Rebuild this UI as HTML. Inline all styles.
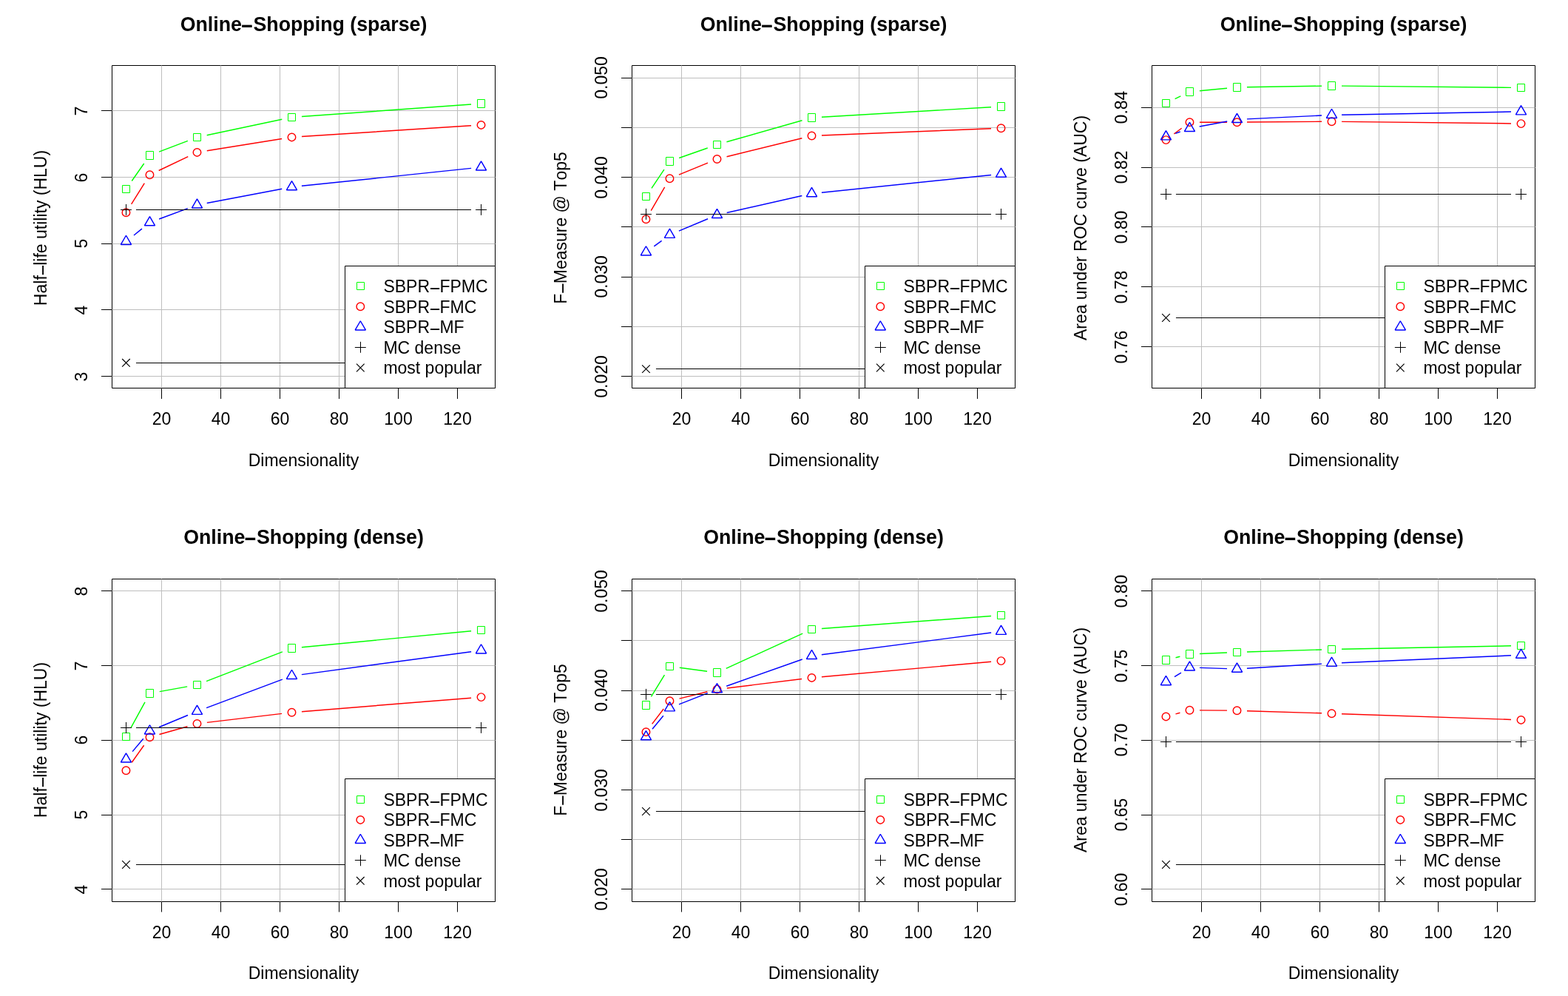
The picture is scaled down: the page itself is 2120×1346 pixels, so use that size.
<!DOCTYPE html>
<html lang="en">
<head>
<meta charset="utf-8">
<title>Online-Shopping</title>
<style>
html,body{margin:0;padding:0;background:#fff}
body{width:2120px;height:1346px;position:relative;overflow:hidden;font-family:"Liberation Sans",Arial,Helvetica,sans-serif;color:#000;font-kerning:none}
svg{position:absolute;left:0;top:0;display:block}
svg *{fill:none;stroke-width:1.0;stroke-linecap:butt;stroke-linejoin:round}
svg rect[fill]{fill:#fff}
svg .w{stroke-width:1.45}
svg .v{stroke-linejoin:bevel}
svg .k{stroke-width:1.2}
.t{position:absolute;width:0;height:0}
.t>span{position:absolute;left:0;top:0;white-space:nowrap;line-height:1;transform-origin:0 0;font-size:23.0px}
.a{transform:translate(-50%,-0.8465em)}
.h{font-weight:bold;font-size:26.75px !important;transform:translate(-50%,-0.8465em)}
.a.l{transform:translate(0,-0.8465em)}
.a.r{transform:rotate(-90deg) translate(-50%,-0.8465em)}
.d{display:inline-block;width:0.584em;text-align:center;transform:translate(0.015em,0.073em) scaleX(2.17)}
.h .d{transform:translate(-0.037em,0.0276em) scaleX(2)}
</style>
</head>
<body>
<svg width="2120" height="1346" viewBox="0 0 2120 1346">
<g transform="translate(0 0)">
<rect x="151.5" y="88.5" width="518" height="436" stroke="#000"/>
<path d="M218.5 524.5V539.0M298.5 524.5V539.0M378.5 524.5V539.0M458.5 524.5V539.0M538.5 524.5V539.0M618.5 524.5V539.0M151.5 508.5H137M151.5 418.5H137M151.5 329.5H137M151.5 239.5H137M151.5 149.5H137" stroke="#000"/>
<path d="M218.5 88.5V524.5M298.5 88.5V524.5M378.5 88.5V524.5M458.5 88.5V524.5M538.5 88.5V524.5M618.5 88.5V524.5M151.5 508.5H669.5M151.5 418.5H669.5M151.5 329.5H669.5M151.5 239.5H669.5M151.5 149.5H669.5" stroke="#bebebe"/>
<path class="w" d="M178.22 244.46L194.69 221.04M215.07 205.17L253.86 190.33M279.68 182.71L381.27 161.29M407.95 157.53L637.05 140.97" stroke="#0f0"/>
<rect x="165.5" y="250.5" width="10" height="10" stroke="#0f0"/>
<rect x="197.5" y="204.5" width="10" height="11" stroke="#0f0"/>
<rect x="261.5" y="180.5" width="10" height="10" stroke="#0f0"/>
<rect x="389.5" y="153.5" width="10" height="10" stroke="#0f0"/>
<rect x="645.5" y="134.5" width="10" height="11" stroke="#0f0"/>
<path class="w" d="M177.62 275.86L195.29 247.69M214.66 230.47L254.27 211.68M279.8 203.77L381.15 187.53M407.95 184.53L637.04 169.77" stroke="#f00"/>
<circle class="w" cx="170.45" cy="287.3" r="5.25" stroke="#f00"/>
<circle class="w" cx="202.46" cy="236.25" r="5.25" stroke="#f00"/>
<circle class="w" cx="266.47" cy="205.9" r="5.25" stroke="#f00"/>
<circle class="w" cx="394.48" cy="185.4" r="5.25" stroke="#f00"/>
<circle class="w" cx="650.51" cy="168.9" r="5.25" stroke="#f00"/>
<path class="w" d="M180.99 317.96L191.92 309.19M215.11 296.05L253.81 281.65M279.73 274.44L381.22 255.21M407.91 251.3L637.09 227.4" stroke="#00f"/>
<path class="w v" d="M170.45 318.24L177.52 330.48L163.38 330.48Z" stroke="#00f"/>
<path class="w v" d="M202.46 292.59L209.53 304.83L195.39 304.83Z" stroke="#00f"/>
<path class="w v" d="M266.47 268.79L273.54 281.03L259.4 281.03Z" stroke="#00f"/>
<path class="w v" d="M394.48 244.54L401.55 256.78L387.41 256.78Z" stroke="#00f"/>
<path class="w v" d="M650.51 217.84L657.58 230.08L643.44 230.08Z" stroke="#00f"/>
<path d="M183.95 283.5L637.01 283.5" stroke="#000"/>
<path d="M163 283.5H177.9M170.5 275.95V290.85" stroke="#000"/>
<path d="M643.06 283.5H657.96M650.5 275.95V290.85" stroke="#000"/>
<path d="M183.95 490.5L637.01 490.5" stroke="#000"/>
<path class="k" d="M165.15 485L175.75 495.6M165.15 495.6L175.75 485" stroke="#000"/>
<path class="k" d="M645.21 485L655.81 495.6M645.21 495.6L655.81 485" stroke="#000"/>
<rect x="466.5" y="359.5" width="203" height="165" fill="#fff" stroke="#000"/>
<rect x="482.5" y="381.5" width="10" height="10" stroke="#0f0"/>
<circle class="w" cx="487.3" cy="414.3" r="5.25" stroke="#f00"/>
<path class="w v" d="M487.3 433.74L494.37 445.98L480.23 445.98Z" stroke="#00f"/>
<path d="M479.85 469.5H494.75M487.5 461.85V476.75" stroke="#000"/>
<path class="k" d="M482 491.7L492.6 502.3M482 502.3L492.6 491.7" stroke="#000"/>
</g>
<g transform="translate(703 0)">
<rect x="151.5" y="88.5" width="518" height="436" stroke="#000"/>
<path d="M218.5 524.5V539.0M298.5 524.5V539.0M378.5 524.5V539.0M458.5 524.5V539.0M538.5 524.5V539.0M618.5 524.5V539.0M151.5 508.5H137M151.5 441.5H137M151.5 374.5H137M151.5 306.5H137M151.5 239.5H137M151.5 172.5H137M151.5 105.5H137" stroke="#000"/>
<path d="M218.5 88.5V524.5M298.5 88.5V524.5M378.5 88.5V524.5M458.5 88.5V524.5M538.5 88.5V524.5M618.5 88.5V524.5M151.5 508.5H669.5M151.5 441.5H669.5M151.5 374.5H669.5M151.5 306.5H669.5M151.5 239.5H669.5M151.5 172.5H669.5M151.5 105.5H669.5" stroke="#bebebe"/>
<path class="w" d="M178 254.3L194.91 229.2M215.19 213.52L253.73 199.98M279.45 191.8L381.5 162.7M407.96 158.21L637.04 144.79" stroke="#0f0"/>
<rect x="165.5" y="260.5" width="10" height="10" stroke="#0f0"/>
<rect x="197.5" y="212.5" width="10" height="11" stroke="#0f0"/>
<rect x="261.5" y="190.5" width="10" height="10" stroke="#0f0"/>
<rect x="389.5" y="153.5" width="10" height="11" stroke="#0f0"/>
<rect x="645.5" y="138.5" width="10" height="11" stroke="#0f0"/>
<path class="w" d="M177.24 284.58L195.67 252.92M214.95 236.13L253.98 220.12M279.57 211.77L381.37 186.73M407.97 182.96L637.02 173.79" stroke="#f00"/>
<circle class="w" cx="170.45" cy="296.25" r="5.25" stroke="#f00"/>
<circle class="w" cx="202.46" cy="241.25" r="5.25" stroke="#f00"/>
<circle class="w" cx="266.47" cy="215" r="5.25" stroke="#f00"/>
<circle class="w" cx="394.48" cy="183.5" r="5.25" stroke="#f00"/>
<circle class="w" cx="650.51" cy="173.25" r="5.25" stroke="#f00"/>
<path class="w" d="M181.32 332.89L191.59 325.31M214.91 312.09L254.01 295.71M279.63 287.53L381.31 264.57M407.91 260.22L637.09 236.58" stroke="#00f"/>
<path class="w v" d="M170.45 332.74L177.52 344.98L163.38 344.98Z" stroke="#00f"/>
<path class="w v" d="M202.46 309.14L209.53 321.38L195.39 321.38Z" stroke="#00f"/>
<path class="w v" d="M266.47 282.34L273.54 294.58L259.4 294.58Z" stroke="#00f"/>
<path class="w v" d="M394.48 253.44L401.55 265.68L387.41 265.68Z" stroke="#00f"/>
<path class="w v" d="M650.51 227.04L657.58 239.28L643.44 239.28Z" stroke="#00f"/>
<path d="M183.95 289.5L637.01 289.5" stroke="#000"/>
<path d="M163 289.5H177.9M170.5 281.95V296.85" stroke="#000"/>
<path d="M643.06 289.5H657.96M650.5 281.95V296.85" stroke="#000"/>
<path d="M183.95 498.5L637.01 498.5" stroke="#000"/>
<path class="k" d="M165.15 493.3L175.75 503.9M165.15 503.9L175.75 493.3" stroke="#000"/>
<path class="k" d="M645.21 493.3L655.81 503.9M645.21 503.9L655.81 493.3" stroke="#000"/>
<rect x="466.5" y="359.5" width="203" height="165" fill="#fff" stroke="#000"/>
<rect x="482.5" y="381.5" width="10" height="10" stroke="#0f0"/>
<circle class="w" cx="487.3" cy="414.3" r="5.25" stroke="#f00"/>
<path class="w v" d="M487.3 433.74L494.37 445.98L480.23 445.98Z" stroke="#00f"/>
<path d="M479.85 469.5H494.75M487.5 461.85V476.75" stroke="#000"/>
<path class="k" d="M482 491.7L492.6 502.3M482 502.3L492.6 491.7" stroke="#000"/>
</g>
<g transform="translate(1406 0)">
<rect x="151.5" y="88.5" width="518" height="436" stroke="#000"/>
<path d="M218.5 524.5V539.0M298.5 524.5V539.0M378.5 524.5V539.0M458.5 524.5V539.0M538.5 524.5V539.0M618.5 524.5V539.0M151.5 468.5H137M151.5 387.5H137M151.5 306.5H137M151.5 226.5H137M151.5 145.5H137" stroke="#000"/>
<path d="M218.5 88.5V524.5M298.5 88.5V524.5M378.5 88.5V524.5M458.5 88.5V524.5M538.5 88.5V524.5M618.5 88.5V524.5M151.5 468.5H669.5M151.5 387.5H669.5M151.5 306.5H669.5M151.5 226.5H669.5M151.5 145.5H669.5" stroke="#bebebe"/>
<path class="w" d="M182.6 133.62L190.31 129.88M215.9 122.74L253.02 119.26M279.96 117.79L380.98 116.21M407.98 116.13L637.01 118.37" stroke="#0f0"/>
<rect x="165.5" y="134.5" width="10" height="10" stroke="#0f0"/>
<rect x="197.5" y="118.5" width="10" height="11" stroke="#0f0"/>
<rect x="261.5" y="112.5" width="10" height="11" stroke="#0f0"/>
<rect x="389.5" y="110.5" width="10" height="11" stroke="#0f0"/>
<rect x="645.5" y="113.5" width="10" height="10" stroke="#0f0"/>
<path class="w" d="M181.26 181.01L191.65 173.24M215.96 165.16L252.97 165.19M279.97 165.09L380.98 164.31M407.98 164.35L637.01 166.95" stroke="#f00"/>
<circle class="w" cx="170.45" cy="189.1" r="5.25" stroke="#f00"/>
<circle class="w" cx="202.46" cy="165.15" r="5.25" stroke="#f00"/>
<circle class="w" cx="266.47" cy="165.2" r="5.25" stroke="#f00"/>
<circle class="w" cx="394.48" cy="164.2" r="5.25" stroke="#f00"/>
<circle class="w" cx="650.51" cy="167.1" r="5.25" stroke="#f00"/>
<path class="w" d="M183.18 180.31L189.73 177.99M215.73 171.01L253.2 163.99M279.95 160.86L381 156.04M407.98 155.16L637.02 151.04" stroke="#00f"/>
<path class="w v" d="M170.45 176.64L177.52 188.88L163.38 188.88Z" stroke="#00f"/>
<path class="w v" d="M202.46 165.34L209.53 177.58L195.39 177.58Z" stroke="#00f"/>
<path class="w v" d="M266.47 153.34L273.54 165.58L259.4 165.58Z" stroke="#00f"/>
<path class="w v" d="M394.48 147.24L401.55 159.48L387.41 159.48Z" stroke="#00f"/>
<path class="w v" d="M650.51 142.64L657.58 154.88L643.44 154.88Z" stroke="#00f"/>
<path d="M183.95 262.5L637.01 262.5" stroke="#000"/>
<path d="M163 262.5H177.9M170.5 255.05V269.95" stroke="#000"/>
<path d="M643.06 262.5H657.96M650.5 255.05V269.95" stroke="#000"/>
<path d="M183.95 429.5L637.01 429.5" stroke="#000"/>
<path class="k" d="M165.15 424.2L175.75 434.8M165.15 434.8L175.75 424.2" stroke="#000"/>
<path class="k" d="M645.21 424.2L655.81 434.8M645.21 434.8L655.81 424.2" stroke="#000"/>
<rect x="466.5" y="359.5" width="203" height="165" fill="#fff" stroke="#000"/>
<rect x="482.5" y="381.5" width="10" height="10" stroke="#0f0"/>
<circle class="w" cx="487.3" cy="414.3" r="5.25" stroke="#f00"/>
<path class="w v" d="M487.3 433.74L494.37 445.98L480.23 445.98Z" stroke="#00f"/>
<path d="M479.85 469.5H494.75M487.5 461.85V476.75" stroke="#000"/>
<path class="k" d="M482 491.7L492.6 502.3M482 502.3L492.6 491.7" stroke="#000"/>
</g>
<g transform="translate(0 694)">
<rect x="151.5" y="88.5" width="518" height="436" stroke="#000"/>
<path d="M218.5 524.5V538.5M298.5 524.5V538.5M378.5 524.5V538.5M458.5 524.5V538.5M538.5 524.5V538.5M618.5 524.5V538.5M151.5 507.5H137M151.5 407.5H137M151.5 306.5H137M151.5 205.5H137M151.5 104.5H137" stroke="#000"/>
<path d="M218.5 88.5V524.5M298.5 88.5V524.5M378.5 88.5V524.5M458.5 88.5V524.5M538.5 88.5V524.5M618.5 88.5V524.5M151.5 507.5H669.5M151.5 407.5H669.5M151.5 306.5H669.5M151.5 205.5H669.5M151.5 104.5H669.5" stroke="#bebebe"/>
<path class="w" d="M176.93 289.66L195.98 254.84M215.75 240.61L253.18 233.89M279.06 226.63L381.89 186.87M407.92 180.71L637.08 158.79" stroke="#0f0"/>
<rect x="165.5" y="296.5" width="10" height="10" stroke="#0f0"/>
<rect x="197.5" y="237.5" width="10" height="11" stroke="#0f0"/>
<rect x="261.5" y="226.5" width="10" height="10" stroke="#0f0"/>
<rect x="389.5" y="176.5" width="10" height="11" stroke="#0f0"/>
<rect x="645.5" y="152.5" width="10" height="10" stroke="#0f0"/>
<path class="w" d="M178.28 336.25L194.63 313.25M215.44 298.55L253.48 287.7M279.87 282.4L381.08 270.35M407.94 267.66L637.06 249.19" stroke="#f00"/>
<circle class="w" cx="170.45" cy="347.25" r="5.25" stroke="#f00"/>
<circle class="w" cx="202.46" cy="302.25" r="5.25" stroke="#f00"/>
<circle class="w" cx="266.47" cy="284" r="5.25" stroke="#f00"/>
<circle class="w" cx="394.48" cy="268.75" r="5.25" stroke="#f00"/>
<circle class="w" cx="650.51" cy="248.1" r="5.25" stroke="#f00"/>
<path class="w" d="M179.14 321.62L193.77 304.23M214.92 288.72L254 272.48M279.11 262.57L381.84 224.13M407.86 217.6L637.13 186.7" stroke="#00f"/>
<path class="w v" d="M170.45 323.79L177.52 336.03L163.38 336.03Z" stroke="#00f"/>
<path class="w v" d="M202.46 285.74L209.53 297.98L195.39 297.98Z" stroke="#00f"/>
<path class="w v" d="M266.47 259.14L273.54 271.38L259.4 271.38Z" stroke="#00f"/>
<path class="w v" d="M394.48 211.24L401.55 223.48L387.41 223.48Z" stroke="#00f"/>
<path class="w v" d="M650.51 176.74L657.58 188.98L643.44 188.98Z" stroke="#00f"/>
<path d="M183.95 289.5L637.01 289.5" stroke="#000"/>
<path d="M163 289.5H177.9M170.5 281.95V296.85" stroke="#000"/>
<path d="M643.06 289.5H657.96M650.5 281.95V296.85" stroke="#000"/>
<path d="M183.95 474.5L637.01 474.5" stroke="#000"/>
<path class="k" d="M165.15 469.2L175.75 479.8M165.15 479.8L175.75 469.2" stroke="#000"/>
<path class="k" d="M645.21 469.2L655.81 479.8M645.21 479.8L655.81 469.2" stroke="#000"/>
<rect x="466.5" y="358.5" width="203" height="166" fill="#fff" stroke="#000"/>
<rect x="482.5" y="381.5" width="10" height="10" stroke="#0f0"/>
<circle class="w" cx="487.3" cy="413.9" r="5.25" stroke="#f00"/>
<path class="w v" d="M487.3 433.24L494.37 445.48L480.23 445.48Z" stroke="#00f"/>
<path d="M479.85 468.5H494.75M487.5 461.35V476.25" stroke="#000"/>
<path class="k" d="M482 491L492.6 501.6M482 501.6L492.6 491" stroke="#000"/>
</g>
<g transform="translate(703 694)">
<rect x="151.5" y="88.5" width="518" height="436" stroke="#000"/>
<path d="M218.5 524.5V538.5M298.5 524.5V538.5M378.5 524.5V538.5M458.5 524.5V538.5M538.5 524.5V538.5M618.5 524.5V538.5M151.5 507.5H137M151.5 440.5H137M151.5 373.5H137M151.5 306.5H137M151.5 239.5H137M151.5 171.5H137M151.5 104.5H137" stroke="#000"/>
<path d="M218.5 88.5V524.5M298.5 88.5V524.5M378.5 88.5V524.5M458.5 88.5V524.5M538.5 88.5V524.5M618.5 88.5V524.5M151.5 507.5H669.5M151.5 440.5H669.5M151.5 373.5H669.5M151.5 306.5H669.5M151.5 239.5H669.5M151.5 171.5H669.5M151.5 104.5H669.5" stroke="#bebebe"/>
<path class="w" d="M177.48 247.47L195.43 218.03M215.84 208.28L253.08 213.22M278.74 209.39L382.2 162.11M407.94 155.5L637.05 138.5" stroke="#0f0"/>
<rect x="165.5" y="253.5" width="10" height="11" stroke="#0f0"/>
<rect x="197.5" y="201.5" width="10" height="10" stroke="#0f0"/>
<rect x="261.5" y="209.5" width="10" height="11" stroke="#0f0"/>
<rect x="389.5" y="151.5" width="10" height="10" stroke="#0f0"/>
<rect x="645.5" y="132.5" width="10" height="10" stroke="#0f0"/>
<path class="w" d="M178.65 284.43L194.26 264.02M215.57 250.08L253.35 240.82M279.87 235.96L381.08 223.54M407.93 220.7L637.07 200.3" stroke="#f00"/>
<circle class="w" cx="170.45" cy="295.15" r="5.25" stroke="#f00"/>
<circle class="w" cx="202.46" cy="253.3" r="5.25" stroke="#f00"/>
<circle class="w" cx="266.47" cy="237.6" r="5.25" stroke="#f00"/>
<circle class="w" cx="394.48" cy="221.9" r="5.25" stroke="#f00"/>
<circle class="w" cx="650.51" cy="199.1" r="5.25" stroke="#f00"/>
<path class="w" d="M179.03 291.27L193.88 273.23M215.03 257.87L253.9 242.63M279.2 233.21L381.75 196.99M407.87 190.76L637.13 161.04" stroke="#00f"/>
<path class="w v" d="M170.45 293.54L177.52 305.78L163.38 305.78Z" stroke="#00f"/>
<path class="w v" d="M202.46 254.64L209.53 266.88L195.39 266.88Z" stroke="#00f"/>
<path class="w v" d="M266.47 229.54L273.54 241.78L259.4 241.78Z" stroke="#00f"/>
<path class="w v" d="M394.48 184.34L401.55 196.58L387.41 196.58Z" stroke="#00f"/>
<path class="w v" d="M650.51 151.14L657.58 163.38L643.44 163.38Z" stroke="#00f"/>
<path d="M183.95 244.5L637.01 244.5" stroke="#000"/>
<path d="M163 244.5H177.9M170.5 236.95V251.85" stroke="#000"/>
<path d="M643.06 244.5H657.96M650.5 236.95V251.85" stroke="#000"/>
<path d="M183.95 402.5L637.01 402.5" stroke="#000"/>
<path class="k" d="M165.15 397.2L175.75 407.8M165.15 407.8L175.75 397.2" stroke="#000"/>
<path class="k" d="M645.21 397.2L655.81 407.8M645.21 407.8L655.81 397.2" stroke="#000"/>
<rect x="466.5" y="358.5" width="203" height="166" fill="#fff" stroke="#000"/>
<rect x="482.5" y="381.5" width="10" height="10" stroke="#0f0"/>
<circle class="w" cx="487.3" cy="413.9" r="5.25" stroke="#f00"/>
<path class="w v" d="M487.3 433.24L494.37 445.48L480.23 445.48Z" stroke="#00f"/>
<path d="M479.85 468.5H494.75M487.5 461.35V476.25" stroke="#000"/>
<path class="k" d="M482 491L492.6 501.6M482 501.6L492.6 491" stroke="#000"/>
</g>
<g transform="translate(1406 694)">
<rect x="151.5" y="88.5" width="518" height="436" stroke="#000"/>
<path d="M218.5 524.5V538.5M298.5 524.5V538.5M378.5 524.5V538.5M458.5 524.5V538.5M538.5 524.5V538.5M618.5 524.5V538.5M151.5 507.5H137M151.5 407.5H137M151.5 306.5H137M151.5 205.5H137M151.5 104.5H137" stroke="#000"/>
<path d="M218.5 88.5V524.5M298.5 88.5V524.5M378.5 88.5V524.5M458.5 88.5V524.5M538.5 88.5V524.5M618.5 88.5V524.5M151.5 507.5H669.5M151.5 407.5H669.5M151.5 306.5H669.5M151.5 205.5H669.5M151.5 104.5H669.5" stroke="#bebebe"/>
<path class="w" d="M183.55 194.73L189.36 193.27M215.95 189.47L252.98 188.03M279.96 187.08L380.99 183.92M407.98 183.24L637.02 178.76" stroke="#0f0"/>
<rect x="165.5" y="192.5" width="10" height="11" stroke="#0f0"/>
<rect x="197.5" y="184.5" width="10" height="11" stroke="#0f0"/>
<rect x="261.5" y="182.5" width="10" height="10" stroke="#0f0"/>
<rect x="389.5" y="178.5" width="10" height="10" stroke="#0f0"/>
<rect x="645.5" y="173.5" width="10" height="10" stroke="#0f0"/>
<path class="w" d="M183.49 270.88L189.43 269.27M215.96 265.86L252.97 266.14M279.96 266.67L380.99 269.83M407.97 270.71L637.02 278.44" stroke="#f00"/>
<circle class="w" cx="170.45" cy="274.4" r="5.25" stroke="#f00"/>
<circle class="w" cx="202.46" cy="265.75" r="5.25" stroke="#f00"/>
<circle class="w" cx="266.47" cy="266.25" r="5.25" stroke="#f00"/>
<circle class="w" cx="394.48" cy="270.25" r="5.25" stroke="#f00"/>
<circle class="w" cx="650.51" cy="278.9" r="5.25" stroke="#f00"/>
<path class="w" d="M181.96 220.54L190.95 215.01M215.95 208.4L252.97 209.65M279.94 209.28L381.01 203.12M407.97 201.72L637.03 191.83" stroke="#00f"/>
<path class="w v" d="M170.45 219.44L177.52 231.68L163.38 231.68Z" stroke="#00f"/>
<path class="w v" d="M202.46 199.79L209.53 212.03L195.39 212.03Z" stroke="#00f"/>
<path class="w v" d="M266.47 201.94L273.54 214.18L259.4 214.18Z" stroke="#00f"/>
<path class="w v" d="M394.48 194.14L401.55 206.38L387.41 206.38Z" stroke="#00f"/>
<path class="w v" d="M650.51 183.09L657.58 195.33L643.44 195.33Z" stroke="#00f"/>
<path d="M183.95 308.5L637.01 308.5" stroke="#000"/>
<path d="M163 308.5H177.9M170.5 301.05V315.95" stroke="#000"/>
<path d="M643.06 308.5H657.96M650.5 301.05V315.95" stroke="#000"/>
<path d="M183.95 474.5L637.01 474.5" stroke="#000"/>
<path class="k" d="M165.15 469.2L175.75 479.8M165.15 479.8L175.75 469.2" stroke="#000"/>
<path class="k" d="M645.21 469.2L655.81 479.8M645.21 479.8L655.81 469.2" stroke="#000"/>
<rect x="466.5" y="358.5" width="203" height="166" fill="#fff" stroke="#000"/>
<rect x="482.5" y="381.5" width="10" height="10" stroke="#0f0"/>
<circle class="w" cx="487.3" cy="413.9" r="5.25" stroke="#f00"/>
<path class="w v" d="M487.3 433.24L494.37 445.48L480.23 445.48Z" stroke="#00f"/>
<path d="M479.85 468.5H494.75M487.5 461.35V476.25" stroke="#000"/>
<path class="k" d="M482 491L492.6 501.6M482 501.6L492.6 491" stroke="#000"/>
</g>
</svg>
<div class="t" style="left:518.4px;top:395px"><span class="a l">SBPR<span class="d">-</span>FPMC</span></div>
<div class="t" style="left:518.4px;top:423px"><span class="a l">SBPR<span class="d">-</span>FMC</span></div>
<div class="t" style="left:518.4px;top:450px"><span class="a l">SBPR<span class="d">-</span>MF</span></div>
<div class="t" style="left:518.4px;top:478px"><span class="a l">MC dense</span></div>
<div class="t" style="left:518.4px;top:505px"><span class="a l">most popular</span></div>
<div class="t" style="left:410.5px;top:43px"><span class="h">Online<span class="d">-</span>Shopping (sparse)</span></div>
<div class="t" style="left:410.5px;top:630px"><span class="a">Dimensionality</span></div>
<div class="t" style="left:63.3px;top:307.5px"><span class="a r">Half<span class="d">-</span>life utility (HLU)</span></div>
<div class="t" style="left:218.46px;top:574px"><span class="a">20</span></div>
<div class="t" style="left:298.47px;top:574px"><span class="a">40</span></div>
<div class="t" style="left:378.48px;top:574px"><span class="a">60</span></div>
<div class="t" style="left:458.49px;top:574px"><span class="a">80</span></div>
<div class="t" style="left:538.5px;top:574px"><span class="a">100</span></div>
<div class="t" style="left:618.51px;top:574px"><span class="a">120</span></div>
<div class="t" style="left:118.3px;top:508.55px"><span class="a r">3</span></div>
<div class="t" style="left:118.3px;top:418.9px"><span class="a r">4</span></div>
<div class="t" style="left:118.3px;top:329.25px"><span class="a r">5</span></div>
<div class="t" style="left:118.3px;top:239.6px"><span class="a r">6</span></div>
<div class="t" style="left:118.3px;top:149.95px"><span class="a r">7</span></div>
<div class="t" style="left:1221.4px;top:395px"><span class="a l">SBPR<span class="d">-</span>FPMC</span></div>
<div class="t" style="left:1221.4px;top:423px"><span class="a l">SBPR<span class="d">-</span>FMC</span></div>
<div class="t" style="left:1221.4px;top:450px"><span class="a l">SBPR<span class="d">-</span>MF</span></div>
<div class="t" style="left:1221.4px;top:478px"><span class="a l">MC dense</span></div>
<div class="t" style="left:1221.4px;top:505px"><span class="a l">most popular</span></div>
<div class="t" style="left:1113.5px;top:43px"><span class="h">Online<span class="d">-</span>Shopping (sparse)</span></div>
<div class="t" style="left:1113.5px;top:630px"><span class="a">Dimensionality</span></div>
<div class="t" style="left:766.3px;top:307.5px"><span class="a r">F<span class="d">-</span>Measure @ Top5</span></div>
<div class="t" style="left:921.46px;top:574px"><span class="a">20</span></div>
<div class="t" style="left:1001.47px;top:574px"><span class="a">40</span></div>
<div class="t" style="left:1081.48px;top:574px"><span class="a">60</span></div>
<div class="t" style="left:1161.49px;top:574px"><span class="a">80</span></div>
<div class="t" style="left:1241.5px;top:574px"><span class="a">100</span></div>
<div class="t" style="left:1321.51px;top:574px"><span class="a">120</span></div>
<div class="t" style="left:821.3px;top:508.5px"><span class="a r">0.020</span></div>
<div class="t" style="left:821.3px;top:374.1px"><span class="a r">0.030</span></div>
<div class="t" style="left:821.3px;top:239.7px"><span class="a r">0.040</span></div>
<div class="t" style="left:821.3px;top:105.3px"><span class="a r">0.050</span></div>
<div class="t" style="left:1924.4px;top:395px"><span class="a l">SBPR<span class="d">-</span>FPMC</span></div>
<div class="t" style="left:1924.4px;top:423px"><span class="a l">SBPR<span class="d">-</span>FMC</span></div>
<div class="t" style="left:1924.4px;top:450px"><span class="a l">SBPR<span class="d">-</span>MF</span></div>
<div class="t" style="left:1924.4px;top:478px"><span class="a l">MC dense</span></div>
<div class="t" style="left:1924.4px;top:505px"><span class="a l">most popular</span></div>
<div class="t" style="left:1816.5px;top:43px"><span class="h">Online<span class="d">-</span>Shopping (sparse)</span></div>
<div class="t" style="left:1816.5px;top:630px"><span class="a">Dimensionality</span></div>
<div class="t" style="left:1469.3px;top:307.5px"><span class="a r">Area under ROC curve (AUC)</span></div>
<div class="t" style="left:1624.46px;top:574px"><span class="a">20</span></div>
<div class="t" style="left:1704.47px;top:574px"><span class="a">40</span></div>
<div class="t" style="left:1784.48px;top:574px"><span class="a">60</span></div>
<div class="t" style="left:1864.49px;top:574px"><span class="a">80</span></div>
<div class="t" style="left:1944.5px;top:574px"><span class="a">100</span></div>
<div class="t" style="left:2024.51px;top:574px"><span class="a">120</span></div>
<div class="t" style="left:1524.3px;top:468.5px"><span class="a r">0.76</span></div>
<div class="t" style="left:1524.3px;top:387.7px"><span class="a r">0.78</span></div>
<div class="t" style="left:1524.3px;top:306.9px"><span class="a r">0.80</span></div>
<div class="t" style="left:1524.3px;top:226.1px"><span class="a r">0.82</span></div>
<div class="t" style="left:1524.3px;top:145.3px"><span class="a r">0.84</span></div>
<div class="t" style="left:518.4px;top:1089px"><span class="a l">SBPR<span class="d">-</span>FPMC</span></div>
<div class="t" style="left:518.4px;top:1116px"><span class="a l">SBPR<span class="d">-</span>FMC</span></div>
<div class="t" style="left:518.4px;top:1144px"><span class="a l">SBPR<span class="d">-</span>MF</span></div>
<div class="t" style="left:518.4px;top:1171px"><span class="a l">MC dense</span></div>
<div class="t" style="left:518.4px;top:1199px"><span class="a l">most popular</span></div>
<div class="t" style="left:410.5px;top:736px"><span class="h">Online<span class="d">-</span>Shopping (dense)</span></div>
<div class="t" style="left:410.5px;top:1323px"><span class="a">Dimensionality</span></div>
<div class="t" style="left:63.3px;top:1000.4px"><span class="a r">Half<span class="d">-</span>life utility (HLU)</span></div>
<div class="t" style="left:218.46px;top:1268px"><span class="a">20</span></div>
<div class="t" style="left:298.47px;top:1268px"><span class="a">40</span></div>
<div class="t" style="left:378.48px;top:1268px"><span class="a">60</span></div>
<div class="t" style="left:458.49px;top:1268px"><span class="a">80</span></div>
<div class="t" style="left:538.5px;top:1268px"><span class="a">100</span></div>
<div class="t" style="left:618.51px;top:1268px"><span class="a">120</span></div>
<div class="t" style="left:118.3px;top:1201.9px"><span class="a r">4</span></div>
<div class="t" style="left:118.3px;top:1101.1px"><span class="a r">5</span></div>
<div class="t" style="left:118.3px;top:1000.3px"><span class="a r">6</span></div>
<div class="t" style="left:118.3px;top:899.5px"><span class="a r">7</span></div>
<div class="t" style="left:118.3px;top:798.7px"><span class="a r">8</span></div>
<div class="t" style="left:1221.4px;top:1089px"><span class="a l">SBPR<span class="d">-</span>FPMC</span></div>
<div class="t" style="left:1221.4px;top:1116px"><span class="a l">SBPR<span class="d">-</span>FMC</span></div>
<div class="t" style="left:1221.4px;top:1144px"><span class="a l">SBPR<span class="d">-</span>MF</span></div>
<div class="t" style="left:1221.4px;top:1171px"><span class="a l">MC dense</span></div>
<div class="t" style="left:1221.4px;top:1199px"><span class="a l">most popular</span></div>
<div class="t" style="left:1113.5px;top:736px"><span class="h">Online<span class="d">-</span>Shopping (dense)</span></div>
<div class="t" style="left:1113.5px;top:1323px"><span class="a">Dimensionality</span></div>
<div class="t" style="left:766.3px;top:1000.4px"><span class="a r">F<span class="d">-</span>Measure @ Top5</span></div>
<div class="t" style="left:921.46px;top:1268px"><span class="a">20</span></div>
<div class="t" style="left:1001.47px;top:1268px"><span class="a">40</span></div>
<div class="t" style="left:1081.48px;top:1268px"><span class="a">60</span></div>
<div class="t" style="left:1161.49px;top:1268px"><span class="a">80</span></div>
<div class="t" style="left:1241.5px;top:1268px"><span class="a">100</span></div>
<div class="t" style="left:1321.51px;top:1268px"><span class="a">120</span></div>
<div class="t" style="left:821.3px;top:1201.9px"><span class="a r">0.020</span></div>
<div class="t" style="left:821.3px;top:1067.5px"><span class="a r">0.030</span></div>
<div class="t" style="left:821.3px;top:933.1px"><span class="a r">0.040</span></div>
<div class="t" style="left:821.3px;top:798.7px"><span class="a r">0.050</span></div>
<div class="t" style="left:1924.4px;top:1089px"><span class="a l">SBPR<span class="d">-</span>FPMC</span></div>
<div class="t" style="left:1924.4px;top:1116px"><span class="a l">SBPR<span class="d">-</span>FMC</span></div>
<div class="t" style="left:1924.4px;top:1144px"><span class="a l">SBPR<span class="d">-</span>MF</span></div>
<div class="t" style="left:1924.4px;top:1171px"><span class="a l">MC dense</span></div>
<div class="t" style="left:1924.4px;top:1199px"><span class="a l">most popular</span></div>
<div class="t" style="left:1816.5px;top:736px"><span class="h">Online<span class="d">-</span>Shopping (dense)</span></div>
<div class="t" style="left:1816.5px;top:1323px"><span class="a">Dimensionality</span></div>
<div class="t" style="left:1469.3px;top:1000.4px"><span class="a r">Area under ROC curve (AUC)</span></div>
<div class="t" style="left:1624.46px;top:1268px"><span class="a">20</span></div>
<div class="t" style="left:1704.47px;top:1268px"><span class="a">40</span></div>
<div class="t" style="left:1784.48px;top:1268px"><span class="a">60</span></div>
<div class="t" style="left:1864.49px;top:1268px"><span class="a">80</span></div>
<div class="t" style="left:1944.5px;top:1268px"><span class="a">100</span></div>
<div class="t" style="left:2024.51px;top:1268px"><span class="a">120</span></div>
<div class="t" style="left:1524.3px;top:1201.9px"><span class="a r">0.60</span></div>
<div class="t" style="left:1524.3px;top:1101.1px"><span class="a r">0.65</span></div>
<div class="t" style="left:1524.3px;top:1000.3px"><span class="a r">0.70</span></div>
<div class="t" style="left:1524.3px;top:899.5px"><span class="a r">0.75</span></div>
<div class="t" style="left:1524.3px;top:798.7px"><span class="a r">0.80</span></div>
</body>
</html>
